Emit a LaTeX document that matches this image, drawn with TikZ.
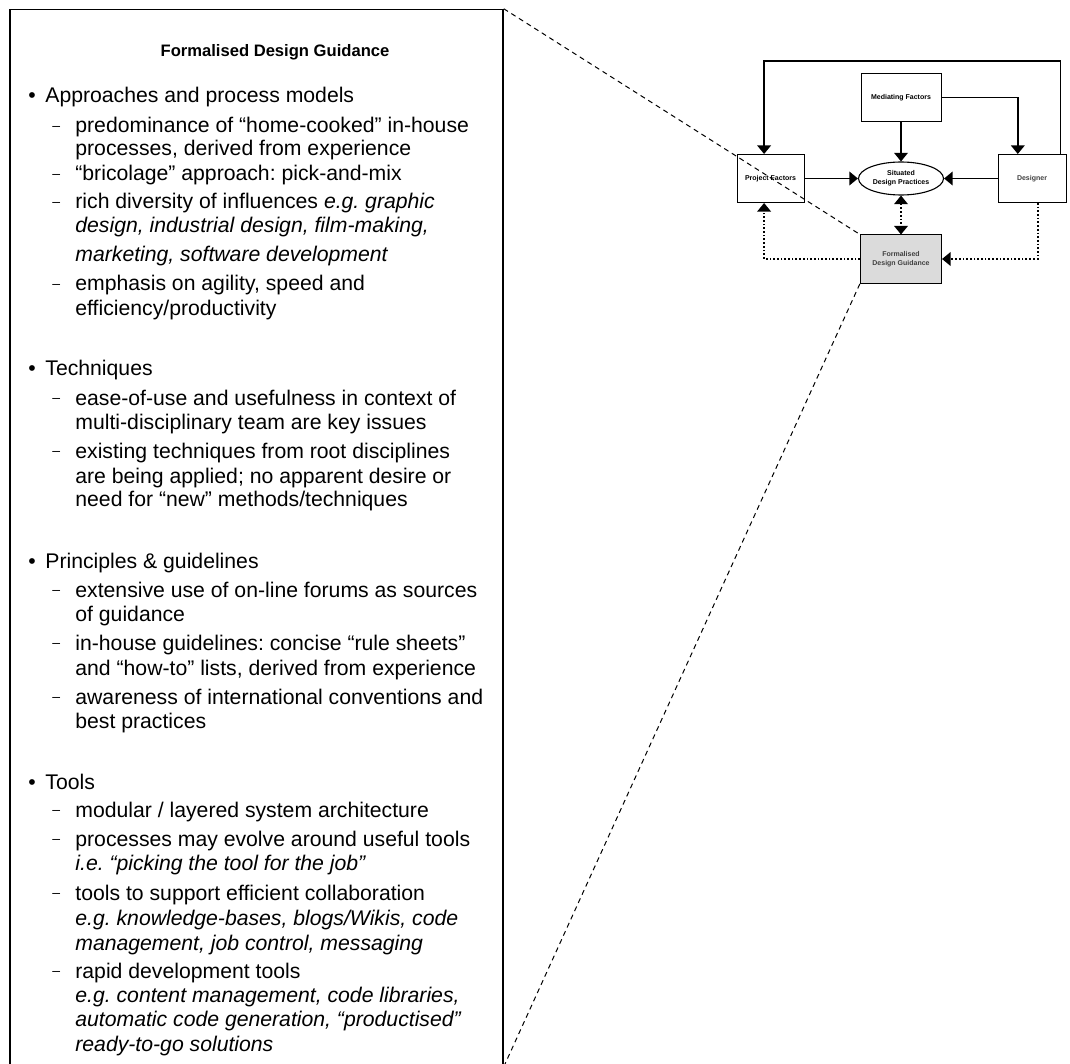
\documentclass[tikz,border=0pt]{standalone}
\usepackage{fontspec}
\setmainfont{Liberation Sans}
\usepackage{xcolor}
\usepackage{tikz}
\usetikzlibrary{shapes,arrows.meta}
\frenchspacing

\tikzstyle{tsBody} = [
    text=black,
    font=\fontsize{10.6}{12}\selectfont,
    anchor=base west,
    inner sep=0pt
]
\tikzstyle{tsDash} = [
    tsBody,
    font=\fontsize{7}{8}\selectfont,
    yshift=1.2pt
]
\tikzstyle{tsTitle} = [
    text=black,
    font=\fontsize{8.3}{10}\selectfont\bfseries,
    anchor=base,
    inner sep=0pt
]
\tikzstyle{tsTiny} = [
    text=black,
    font=\fontsize{3.5}{4.5}\selectfont\bfseries,
    align=center
]
\tikzstyle{tsRectangle} = [
    rectangle,
    tsTiny,
    draw=black,
    line width=0.5pt,
    minimum height=24pt
]
\tikzstyle{tsEllipse} = [
    ellipse,
    tsTiny,
    draw=black,
    line width=0.55pt,
    inner sep=0pt,
    minimum width=42.5pt,
    minimum height=16.5pt
]
\tikzstyle{tsPanel} = [
    rectangle,
    draw=black,
    line width=0.75pt,
    inner sep=0pt
]
\tikzstyle{tsArrow} = [
    line width=0.85pt,
    -{Triangle[length=4.3pt,width=6.8pt]}
]
\tikzstyle{tsDotArrow} = [
    tsArrow,
    densely dotted
]
\tikzstyle{tsLink} = [
    line width=0.5pt,
    dash pattern=on 2.5pt off 2pt
]

\begin{document}
\begin{tikzpicture}[x=0.5pt, y=-0.5pt]

        \useasboundingbox (0,0) rectangle (1070,1064);
        \clip (0,0) rectangle (1070,1064);

        \node[  tsPanel,
                minimum width=246.5pt,
                minimum height=528.25pt] (panel) at (256.5,537.75) { };

        \node[tsTitle] (title) at (275,57) {Formalised Design Guidance};

        \foreach \y in {103,375,568,789}
            \node[tsBody] (bullet\y) at (28,\y) {•};
        \foreach \y in {133,181,209,291,405,458,597,650,704,817,846,900,978}
            \node[tsDash] (dash\y) at (52,\y) {–};

        \node[tsBody] (approaches) at (45,103) {Approaches and process models};
        \node[tsBody] (techniques) at (45,375) {Techniques};
        \node[tsBody] (principles) at (45,568) {Principles \& guidelines};
        \node[tsBody] (tools) at (45,789) {Tools};

        \foreach \y/\txt [count=\i] in {
                133/{predominance of “home-cooked” in-house},
                156/{processes, derived from experience},
                181/{“bricolage” approach: pick-and-mix},
                209/{rich diversity of influences \textit{e.g. graphic}},
                233/{\textit{design, industrial design, film-making,}},
                262/{\textit{marketing, software development}},
                291/{emphasis on agility, speed and},
                315/{efficiency/productivity},
                405/{ease-of-use and usefulness in context of},
                429/{multi-disciplinary team are key issues},
                458/{existing techniques from root disciplines},
                483/{are being applied; no apparent desire or},
                506/{need for “new” methods/techniques},
                597/{extensive use of on-line forums as sources},
                621/{of guidance},
                650/{in-house guidelines: concise “rule sheets”},
                675/{and “how-to” lists, derived from experience},
                704/{awareness of international conventions and},
                728/{best practices},
                817/{modular / layered system architecture},
                846/{processes may evolve around useful tools},
                870/{\textit{i.e. “picking the tool for the job”}},
                900/{tools to support efficient collaboration},
                925/{\textit{e.g. knowledge-bases, blogs/Wikis, code}},
                950/{\textit{management, job control, messaging}},
                978/{rapid development tools},
                1002/{\textit{e.g. content management, code libraries,}},
                1026/{\textit{automatic code generation, “productised”}},
                1051/{\textit{ready-to-go solutions}}}
            \node[tsBody] (line\i) at (75,\y) {\txt};

        \node[tsRectangle, minimum width=40pt] (mediating) at (901,97.5) {Mediating Factors};
        \node[tsRectangle, minimum width=33.5pt] (project) at (770.5,178.5) {Project Factors};
        \node[tsRectangle, minimum width=34pt, text=black!75] (designer) at (1032,178.5) {Designer};
        \node[tsEllipse] (situated) at (901,178.5) {Situated\\Design Practices};
        \node[tsRectangle, minimum width=40.5pt, fill=black!14, text=black!75] (formalised) at (901,259) {Formalised\\Design Guidance};

        \coordinate (loopTop) at (900,60.7);

        \draw[tsArrow] ([xshift=14.3pt]designer.north) |- (loopTop) -| ([xshift=-3.2pt]project.north);
        \draw[tsArrow] (mediating.east) -| ([xshift=-7.1pt]designer.north);
        \draw[tsArrow] (mediating) -- (situated);
        \draw[tsArrow] (project) -- (situated);
        \draw[tsArrow] (designer) -- (situated);
        \draw[tsDotArrow, {Triangle[length=4.3pt,width=6.8pt]}-{Triangle[length=4.3pt,width=6.8pt]}] (situated) -- (formalised);
        \draw[tsDotArrow] (formalised.west) -| ([xshift=-3.2pt]project.south);
        \draw[tsDotArrow] ([xshift=2.85pt]designer.south) |- (formalised.east);

        \draw[tsLink] (panel.north east) -- (formalised.north west);
        \draw[tsLink] (panel.south east) -- (formalised.south west);

\end{tikzpicture}
\end{document}
